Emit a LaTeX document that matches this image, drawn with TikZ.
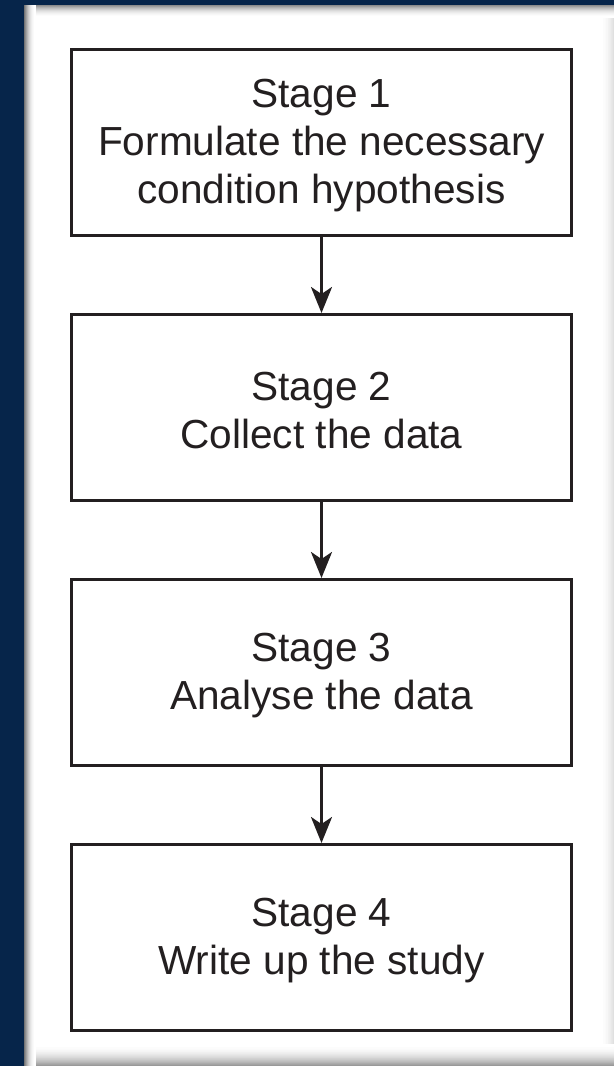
\documentclass[tikz,border=0pt]{standalone}
\usepackage{fontspec}
\setmainfont{Liberation Sans}
\usetikzlibrary{arrows.meta}
\definecolor{navy}{RGB}{6,37,74}
\definecolor{ink}{RGB}{35,31,32}
\tikzset{
  stagebox/.style={draw=ink, line width=3pt, fill=white, minimum width=500pt, minimum height=186pt, inner sep=0pt},
  stagetext/.style={align=center, text=ink, font=\fontsize{40.6pt}{48pt}\selectfont, inner sep=0pt, yshift=-3pt},
  flow/.style={draw=ink, line width=3pt, -{Stealth[length=26pt,width=21pt,inset=7pt]}}
}
\begin{document}
\begin{tikzpicture}[x=1pt,y=-1pt]
\useasboundingbox (0,0) rectangle (614,1066);
% background frame
\fill[navy] (0,0) rectangle (614,1066);
\fill[white] (24,5) rectangle (614,1066);
% panel shading built from thin strips
% bottom: white at 1044 -> grey at 1066
\foreach \i in {0,...,21}{
  \pgfmathtruncatemacro{\g}{round(40*(\i/21)^2)}
  \fill[black!\g] (24,1044+\i) rectangle (614,1045+\i);
}
% top: grey at 5 -> white at 18
\foreach \i in {0,...,12}{
  \pgfmathtruncatemacro{\g}{round(45*((12-\i)/12)^2)}
  \fill[black!\g] (24,5+\i) rectangle (614,6+\i);
}
% right: white at 600 -> light grey at 614
\foreach \i in {0,...,13}{
  \pgfmathtruncatemacro{\g}{round(12*(\i/13)^2)}
  \fill[black!\g] (600+\i,18) rectangle (601+\i,1044);
}
% left: grey at 24 -> white at 36
\foreach \i in {0,...,11}{
  \pgfmathtruncatemacro{\g}{round(55*((11-\i)/11)^2)}
  \fill[black!\g] (24+\i,5) rectangle (25+\i,1066);
}
% boxes
\node[stagebox] (s1) at (321.5,142.5) {};
\node[stagebox] (s2) at (321.5,407.5) {};
\node[stagebox] (s3) at (321.5,672.5) {};
\node[stagebox] (s4) at (321.5,937.5) {};
\node[stagetext] (t1) at (s1.center) {Stage 1\\Formulate the necessary\\condition hypothesis};
\node[stagetext] (t2) at (s2.center) {Stage 2\\Collect the data};
\node[stagetext] (t3) at (s3.center) {Stage 3\\Analyse the data};
\node[stagetext] (t4) at (s4.center) {Stage 4\\Write up the study};
% arrows
\draw[flow] (s1.south) -- (s2.north);
\draw[flow] (s2.south) -- (s3.north);
\draw[flow] (s3.south) -- (s4.north);
\end{tikzpicture}
\end{document}
